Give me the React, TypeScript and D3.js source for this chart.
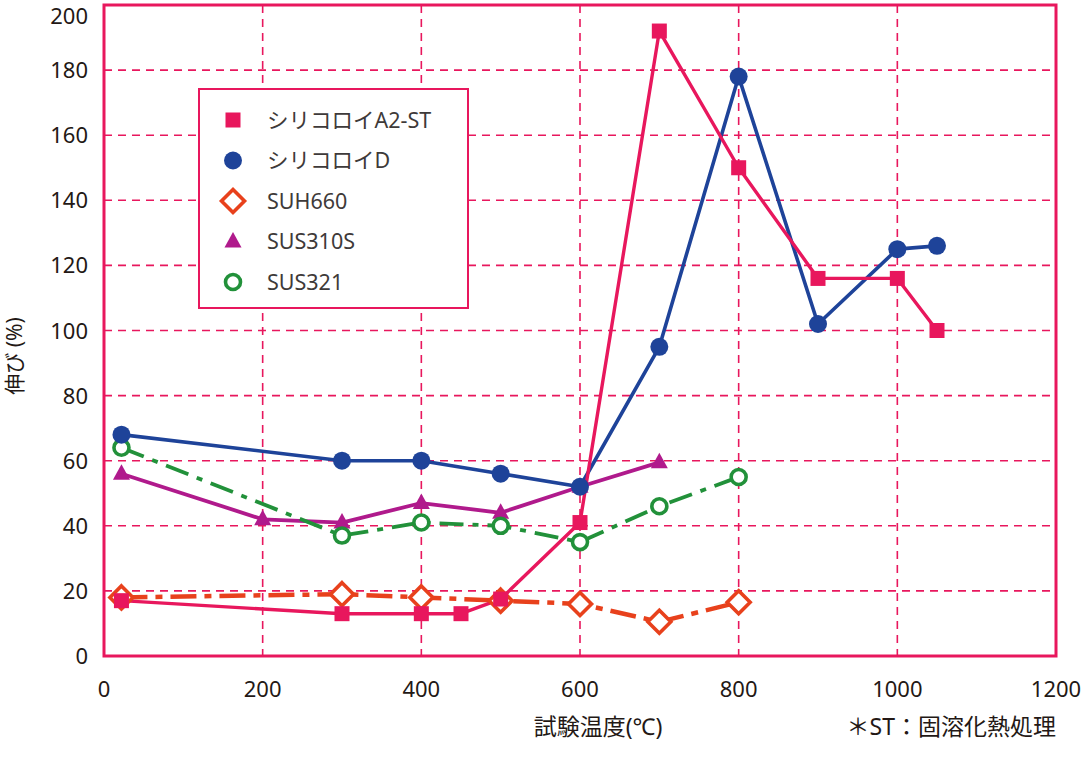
import React from 'react';
import * as d3 from 'd3';

// temperatures (°C) and elongation (%) per alloy
const a2stTemp = [22, 300, 400, 450, 500, 600, 700, 800, 900, 1000, 1050];
const a2stVal = [17, 13, 13, 13, 17.5, 41, 192, 150, 116, 116, 100];

const dTemp = [22, 300, 400, 500, 600, 700, 800, 900, 1000, 1050];
const dVal = [68, 60, 60, 56, 52, 95, 178, 102, 125, 126];

const suh660Temp = [22, 300, 400, 500, 600, 700, 800];
const suh660Val = [18, 19, 18, 17, 16, 10.5, 16.5];

const sus310sTemp = [22, 200, 300, 400, 500, 600, 700];
const sus310sVal = [56, 42, 41, 47, 44, 52, 59.5];

const sus321Temp = [22, 300, 400, 500, 600, 700, 800];
const sus321Val = [64, 37, 41, 40, 35, 46, 55];

const xTicks = [0, 200, 400, 600, 800, 1000, 1200];
const yTicks = [0, 20, 40, 60, 80, 100, 120, 140, 160, 180, 200];

const PINK = '#e8175d';
const TEXT = '#231815';

type Series = {
  name: string;
  temp: number[];
  val: number[];
  color: string;
  dash?: string;
  width: number;
  marker: 'square' | 'circle' | 'diamond' | 'triangle' | 'ring';
};

const series: Series[] = [
  { name: 'SUS310S', temp: sus310sTemp, val: sus310sVal, color: '#b01a8c', width: 3.8, marker: 'triangle' },
  { name: 'SUS321', temp: sus321Temp, val: sus321Val, color: '#22913a', dash: '24,9,6,9', width: 3.8, marker: 'ring' },
  { name: 'SUH660', temp: suh660Temp, val: suh660Val, color: '#e8411c', dash: '26,8,7,8', width: 4.5, marker: 'diamond' },
  { name: 'シリコロイD', temp: dTemp, val: dVal, color: '#1e4399', width: 3.6, marker: 'circle' },
  { name: 'シリコロイA2-ST', temp: a2stTemp, val: a2stVal, color: PINK, width: 3.4, marker: 'square' },
];

const legendOrder = ['シリコロイA2-ST', 'シリコロイD', 'SUH660', 'SUS310S', 'SUS321'];

const Marker: React.FC<{ kind: Series['marker']; color: string; cx: number; cy: number }> = ({ kind, color, cx, cy }) => {
  if (kind === 'square') return <rect x={cx - 7.5} y={cy - 7.5} width={15} height={15} fill={color} />;
  if (kind === 'circle') return <circle cx={cx} cy={cy} r={9} fill={color} />;
  if (kind === 'ring') return <circle cx={cx} cy={cy} r={7.5} fill="white" stroke={color} strokeWidth={3.6} />;
  if (kind === 'diamond')
    return (
      <path
        d={`M${cx},${cy - 11.5}L${cx + 11.5},${cy}L${cx},${cy + 11.5}L${cx - 11.5},${cy}Z`}
        fill="white"
        stroke={color}
        strokeWidth={3.6}
      />
    );
  return <path d={`M${cx},${cy - 9.5}L${cx + 8.5},${cy + 6}L${cx - 8.5},${cy + 6}Z`} fill={color} />;
};

const App: React.FC = () => {
  const width = 1084;
  const height = 757;
  const left = 104;
  const right = 1056;
  const top = 5;
  const bottom = 656;

  const x = d3.scaleLinear().domain([0, 1200]).range([left, right]);
  const y = d3.scaleLinear().domain([0, 200]).range([bottom, top]);

  const line = d3
    .line<[number, number]>()
    .x((d) => x(d[0]))
    .y((d) => y(d[1]));

  const font = '"Noto Sans", "Noto Sans CJK JP", sans-serif';

  return (
    <svg
      width={width}
      height={height}
      style={{ position: 'absolute', left: 0, top: 0, background: 'white', fontFamily: font }}
    >
      {/* grid */}
      {xTicks.slice(1, -1).map((t) => (
        <line key={'gx' + t} x1={x(t)} x2={x(t)} y1={top} y2={bottom} stroke={PINK} strokeWidth={1.6} strokeDasharray="8,6" />
      ))}
      {yTicks.slice(1, -1).map((t) => (
        <line key={'gy' + t} x1={left} x2={right} y1={y(t)} y2={y(t)} stroke={PINK} strokeWidth={1.6} strokeDasharray="8,6" />
      ))}

      {/* frame */}
      <rect x={left} y={top} width={right - left} height={bottom - top} fill="none" stroke={PINK} strokeWidth={3} />

      {/* tick labels */}
      {xTicks.map((t) => (
        <text key={'tx' + t} x={x(t)} y={697} textAnchor="middle" fontSize={22} fill={TEXT}>
          {t}
        </text>
      ))}
      {yTicks.map((t) => (
        <text key={'ty' + t} x={88} y={Math.max(y(t) + 8, 24)} textAnchor="end" fontSize={22} fill={TEXT}>
          {t}
        </text>
      ))}

      {/* axis titles */}
      <text x={598} y={735} textAnchor="middle" fontSize={23} fill={TEXT}>
        試験温度(℃)
      </text>
      <text x={1056} y={735} textAnchor="end" fontSize={23} fill={TEXT}>
        ＊ST：固溶化熱処理
      </text>
      <text transform="translate(22,356) rotate(-90)" textAnchor="middle" fontSize={21} fill={TEXT}>
        伸び (%)
      </text>

      {/* legend */}
      <rect x={199} y={89} width={269} height={219} fill="white" stroke={PINK} strokeWidth={2} />
      {legendOrder.map((name, i) => {
        const s = series.find((d) => d.name === name)!;
        const cy = 120 + i * 40.5;
        return (
          <g key={'lg' + name}>
            <Marker kind={s.marker} color={s.color} cx={233} cy={cy} />
            <text x={267} y={cy + 7.5} fontSize={21.5} fill="#3e3a39">
              {name}
            </text>
          </g>
        );
      })}

      {/* series lines */}
      {series.map((s) => {
        const pts = s.temp.map((t, i) => [t, s.val[i]] as [number, number]);
        return (
          <path
            key={'ln' + s.name}
            d={line(pts) ?? ''}
            fill="none"
            stroke={s.color}
            strokeWidth={s.width}
            strokeDasharray={s.dash}
            strokeLinejoin="round"
          />
        );
      })}
      {series.map((s) => (
        <g key={'mk' + s.name}>
          {s.temp.map((t, i) => (
            <Marker key={i} kind={s.marker} color={s.color} cx={x(t)} cy={y(s.val[i])} />
          ))}
        </g>
      ))}
    </svg>
  );
};

export default App;
